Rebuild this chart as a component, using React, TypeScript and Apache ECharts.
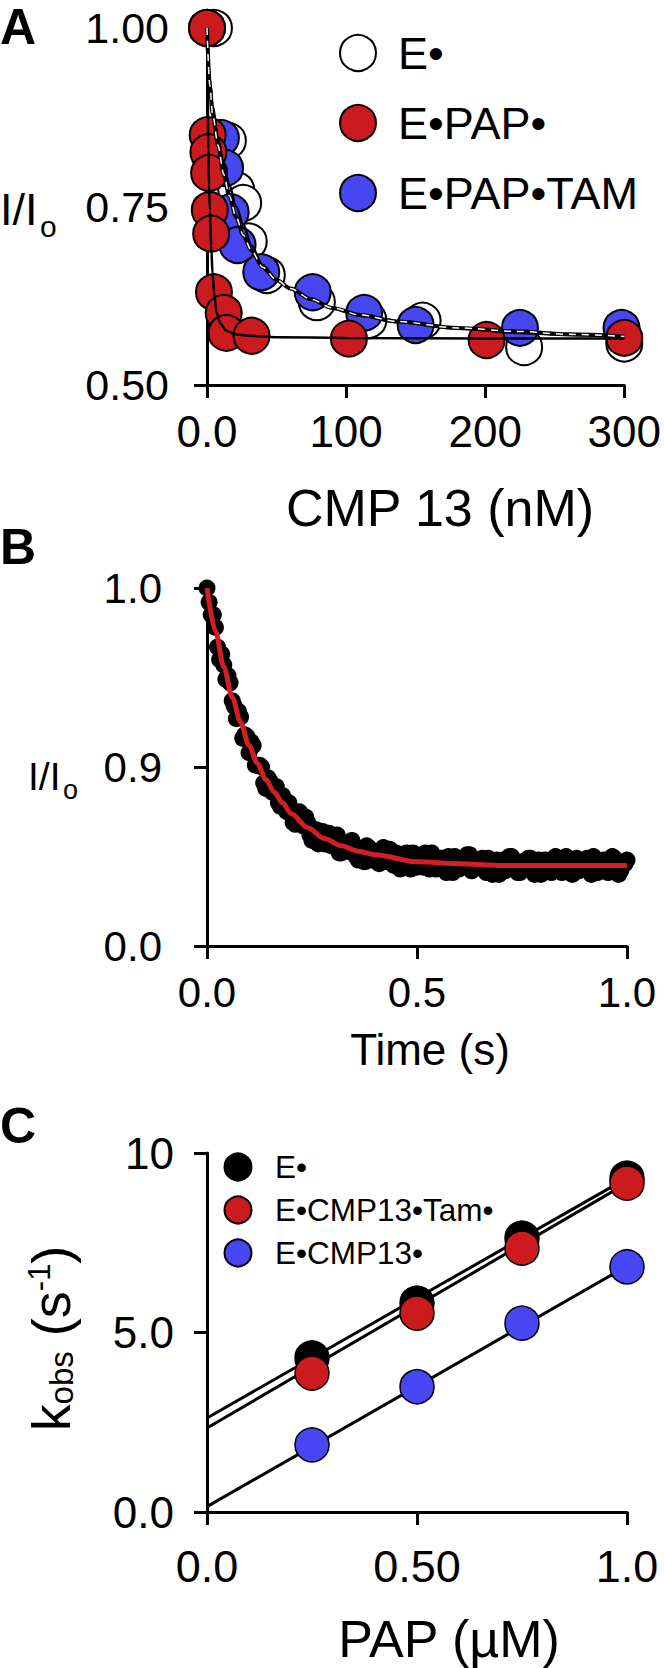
import React, { useEffect, useRef } from "react";
import * as echarts from "echarts";

const FONT = "'Liberation Sans', Arial, Helvetica, sans-serif";
const RED = "#CC1B1F";
const BLUE = "#4646F2";
const TRACE_RED = "#D11F26";

// ---------- Panel A : I/Io vs CMP 13 (nM) ----------
const A_X_TICKS = ["0.0", "100", "200", "300"];
const A_Y_TICKS = ["0.50", "0.75", "1.00"];
const A_E_X = [5, 15, 21, 26, 30, 43, 79, 116, 155, 228, 300];
const A_E_Y = [1.0, 0.842, 0.773, 0.755, 0.701, 0.654, 0.616, 0.591, 0.59, 0.553, 0.558];
const A_BLUE_X = [0, 10, 13, 17, 22, 39, 76, 113, 150, 225, 298];
const A_BLUE_Y = [1.0, 0.846, 0.804, 0.742, 0.696, 0.658, 0.63, 0.601, 0.584, 0.58, 0.58];
const A_RED_X = [0, 0.5, 1, 1.5, 2, 3, 5, 12, 14, 32, 102, 201, 300];
const A_RED_Y = [1.0, 0.85, 0.826, 0.797, 0.745, 0.712, 0.63, 0.601, 0.573, 0.569, 0.565, 0.563, 0.566];
const A_FIT_E_X = [0, 2, 4, 8, 12, 16, 21, 26, 32, 40, 50, 60, 75, 90, 110, 137, 180, 224, 260, 300];
const A_FIT_E_Y = [1.0, 0.93, 0.89, 0.845, 0.81, 0.78, 0.75, 0.725, 0.695, 0.668, 0.648, 0.635, 0.62, 0.607, 0.597, 0.588, 0.579, 0.573, 0.57, 0.567];
const A_FIT_BLUE_X = [0, 2, 4, 8, 12, 16, 21, 26, 32, 40, 50, 60, 75, 90, 110, 137, 180, 224, 260, 300];
const A_FIT_BLUE_Y = [1.0, 0.92, 0.88, 0.835, 0.795, 0.765, 0.735, 0.71, 0.688, 0.665, 0.647, 0.635, 0.62, 0.608, 0.598, 0.589, 0.58, 0.575, 0.571, 0.568];
const A_FIT_RED_X = [0, 0.5, 1, 1.5, 2, 3, 4, 5, 7, 10, 14, 20, 30, 50, 100, 200, 300];
const A_FIT_RED_Y = [1.0, 0.9, 0.83, 0.78, 0.745, 0.695, 0.655, 0.63, 0.6, 0.585, 0.576, 0.571, 0.569, 0.567, 0.566, 0.565, 0.565];
const A_LEGEND = ["E•", "E•PAP•", "E•PAP•TAM"];

// ---------- Panel B : stopped-flow trace (sampled every 5 ms) ----------
const B_X_TICKS = ["0.0", "0.5", "1.0"];
const B_Y_TICKS = ["0.0", "0.9", "1.0"];
const B_SAMPLE_DT = 0.005;
const B_TRACE_Y = [
  1.0, 0.992, 0.985, 0.985, 0.978, 0.967, 0.96, 0.963, 0.957, 0.949,
  0.951, 0.947, 0.937, 0.934, 0.927, 0.931, 0.928, 0.916, 0.918, 0.917,
  0.908, 0.914, 0.912, 0.901, 0.901, 0.901, 0.9, 0.891, 0.888, 0.894,
  0.892, 0.886, 0.886, 0.889, 0.88, 0.878, 0.884, 0.878, 0.875, 0.88,
  0.875, 0.869, 0.868, 0.873, 0.875, 0.868, 0.867, 0.872, 0.869, 0.862,
  0.859, 0.865, 0.865, 0.857, 0.861, 0.864, 0.857, 0.861, 0.863, 0.856,
  0.856, 0.86, 0.862, 0.852, 0.852, 0.856, 0.856, 0.853, 0.853, 0.859,
  0.856, 0.85, 0.848, 0.854, 0.854, 0.847, 0.856, 0.855, 0.848, 0.851,
  0.851, 0.847, 0.846, 0.853, 0.855, 0.849, 0.847, 0.854, 0.85, 0.845,
  0.852, 0.851, 0.843, 0.846, 0.85, 0.852, 0.847, 0.843, 0.852, 0.849,
  0.844, 0.85, 0.847, 0.844, 0.852, 0.847, 0.843, 0.852, 0.849, 0.843,
  0.845, 0.849, 0.849, 0.845, 0.841, 0.85, 0.847, 0.841, 0.85, 0.849,
  0.843, 0.844, 0.845, 0.847, 0.851, 0.851, 0.842, 0.843, 0.848, 0.845,
  0.845, 0.849, 0.843, 0.841, 0.849, 0.847, 0.84, 0.845, 0.848, 0.84,
  0.846, 0.848, 0.842, 0.843, 0.85, 0.85, 0.844, 0.844, 0.841, 0.841,
  0.847, 0.847, 0.845, 0.849, 0.849, 0.842, 0.84, 0.846, 0.848, 0.84,
  0.843, 0.848, 0.846, 0.845, 0.841, 0.843, 0.85, 0.849, 0.842, 0.841,
  0.847, 0.85, 0.845, 0.844, 0.84, 0.847, 0.849, 0.842, 0.844, 0.846,
  0.848, 0.849, 0.843, 0.84, 0.85, 0.847, 0.841, 0.843, 0.846, 0.848,
  0.842, 0.841, 0.847, 0.85, 0.849, 0.845, 0.84, 0.842, 0.845, 0.846,
  0.848,
];
const B_FIT_T = [0, 0.02, 0.04, 0.06, 0.08, 0.1, 0.12, 0.14, 0.16, 0.18, 0.2, 0.24, 0.28, 0.32, 0.36, 0.4, 0.5, 0.6, 0.7, 0.8, 0.9, 1.0];
const B_FIT_Y = [1.0, 0.976, 0.956, 0.939, 0.925, 0.912, 0.902, 0.893, 0.886, 0.88, 0.874, 0.866, 0.86, 0.856, 0.853, 0.851, 0.847, 0.846, 0.845, 0.845, 0.845, 0.845];

// ---------- Panel C : kobs vs PAP ----------
const C_X_TICKS = ["0.0", "0.50", "1.0"];
const C_Y_TICKS = ["0.0", "5.0", "10"];
const C_PAP = [0.25, 0.5, 0.75, 1.0];
const C_E = [4.29, 5.82, 7.63, 9.3];
const C_TAM = [3.87, 5.54, 7.35, 9.16];
const C_CMP = [1.87, 3.49, 5.26, 6.83];
const C_FIT_X = [0, 1.0];
const C_FIT_E = [2.62, 9.3];
const C_FIT_TAM = [2.34, 9.16];
const C_FIT_CMP = [0.15, 6.85];
const C_LEGEND = ["E•", "E•CMP13•Tam•", "E•CMP13•"];

const zip = (xs: number[], ys: number[]) => xs.map((x, i) => [x, ys[i]]);

function axis(
  gridIndex: number,
  min: number,
  max: number,
  interval: number,
  labels: string[],
  fontSize: number,
  margin: number,
  extra: any = {}
) {
  return {
    gridIndex,
    type: "value",
    min,
    max,
    interval,
    axisLine: { show: true, onZero: false, lineStyle: { color: "#000", width: 3 } },
    axisTick: { show: true, length: 13, lineStyle: { color: "#000", width: 3 } },
    splitLine: { show: false },
    axisLabel: {
      color: "#000",
      fontSize,
      fontFamily: FONT,
      margin,
      formatter: (v: number) => labels[Math.round((v - min) / interval)] ?? "",
    },
    ...extra,
  };
}

function txt(text: string, x: number, y: number, size: number, extra: any = {}) {
  return {
    type: "text",
    x,
    y,
    silent: true,
    style: {
      text,
      fill: "#000",
      fontSize: size,
      fontFamily: FONT,
      fontWeight: extra.bold ? "bold" : "normal",
      textAlign: extra.align || "left",
      textVerticalAlign: "middle",
      lineHeight: size,
    },
  };
}

function dot(cx: number, cy: number, r: number, fill: string) {
  return {
    type: "circle",
    silent: true,
    shape: { cx, cy, r },
    style: { fill, stroke: "#000", lineWidth: 2 },
  };
}

export default function App() {
  const ref = useRef<HTMLDivElement>(null);

  useEffect(() => {
    if (!ref.current) return;
    const chart = echarts.init(ref.current, null, { renderer: "svg" });

    const scatter = (name: string, data: number[][], gi: number, size: number, color: string, z: number, bw = 2) => ({
      name,
      type: "scatter",
      xAxisIndex: gi,
      yAxisIndex: gi,
      data,
      symbol: "circle",
      symbolSize: size,
      clip: false,
      z,
      itemStyle: { color, borderColor: "#000", borderWidth: bw, opacity: 1 },
    });
    const line = (name: string, data: number[][], gi: number, color: string, width: number, z: number, extra: any = {}) => ({
      name,
      type: "line",
      xAxisIndex: gi,
      yAxisIndex: gi,
      data,
      showSymbol: false,
      symbol: "none",
      clip: false,
      smooth: extra.smooth ?? false,
      smoothMonotone: "x",
      z,
      lineStyle: { color, width, type: extra.dash ? [7, 6] : "solid" },
    });

    const kobsName = {
      name: "{k|k}{sub|obs} {p|(s}{sup|-1}{p|)}",
      nameLocation: "middle",
      nameRotate: 90,
      nameGap: 129,
      nameTextStyle: {
        color: "#000",
        fontFamily: FONT,
        fontSize: 54,
        lineHeight: 54,
        padding: [0, 12, 0, 0],
        rich: {
          k: { fontSize: 54, lineHeight: 54, fontFamily: FONT, color: "#000" },
          p: { fontSize: 54, lineHeight: 54, fontFamily: FONT, color: "#000" },
          sub: { fontSize: 33, lineHeight: 33, verticalAlign: "bottom", fontFamily: FONT, color: "#000" },
          sup: { fontSize: 31, lineHeight: 31, verticalAlign: "top", fontFamily: FONT, color: "#000" },
        },
      },
    };

    const option: any = {
      animation: false,
      backgroundColor: "#ffffff",
      textStyle: { fontFamily: FONT },
      grid: [
        { left: 207, top: 28, width: 421, height: 357 },
        { left: 207, top: 588, width: 420, height: 358 },
        { left: 207, top: 1153, width: 420, height: 359 },
      ],
      xAxis: [
        axis(0, 0, 300, 100, A_X_TICKS, 44, 24),
        axis(1, 0, 1, 0.5, B_X_TICKS, 42, 25),
        axis(2, 0, 1, 0.5, C_X_TICKS, 45, 32),
      ],
      yAxis: [
        axis(0, 0.5, 1.0, 0.25, A_Y_TICKS, 43, 38),
        axis(1, 0.8, 1.0, 0.1, B_Y_TICKS, 42, 45),
        axis(2, 0, 10, 5, C_Y_TICKS, 44, 33, kobsName),
      ],
      series: [
        // Panel A
        scatter("E•", zip(A_E_X, A_E_Y), 0, 36, "#ffffff", 2),
        scatter("E•PAP•TAM", zip(A_BLUE_X, A_BLUE_Y), 0, 36, BLUE, 3),
        scatter("E•PAP•", zip(A_RED_X, A_RED_Y), 0, 36, RED, 4),
        line("E• fit", zip(A_FIT_E_X, A_FIT_E_Y), 0, "#000", 2.5, 6, { smooth: 0.3 }),
        line("E•PAP•TAM fit", zip(A_FIT_BLUE_X, A_FIT_BLUE_Y), 0, "#000", 4, 6, { smooth: 0.3 }),
        line("E•PAP•TAM fit dash", zip(A_FIT_BLUE_X, A_FIT_BLUE_Y), 0, "#ffffff", 1.5, 7, { smooth: 0.3, dash: true }),
        line("E•PAP• fit", zip(A_FIT_RED_X, A_FIT_RED_Y), 0, "#000", 2.5, 6, { smooth: 0.3 }),
        // Panel B
        scatter("trace", B_TRACE_Y.map((y, i) => [i * B_SAMPLE_DT, y]), 1, 17, "#000", 2, 0),
        line("trace fit", zip(B_FIT_T, B_FIT_Y), 1, TRACE_RED, 5, 3, { smooth: 0.3 }),
        // Panel C
        line("E• line", zip(C_FIT_X, C_FIT_E), 2, "#000", 3, 2),
        line("E•CMP13•Tam• line", zip(C_FIT_X, C_FIT_TAM), 2, "#000", 3, 2),
        line("E•CMP13• line", zip(C_FIT_X, C_FIT_CMP), 2, "#000", 3, 2),
        scatter("E• (C)", zip(C_PAP, C_E), 2, 34, "#000", 3, 1.5),
        scatter("E•CMP13•Tam•", zip(C_PAP, C_TAM), 2, 34, RED, 4, 1.5),
        scatter("E•CMP13•", zip(C_PAP, C_CMP), 2, 34, BLUE, 4, 1.5),
      ],
      graphic: [
        // panel letters
        txt("A", 0, 27, 50, { bold: true }),
        txt("B", 0, 547, 50, { bold: true }),
        txt("C", 0, 1126, 50, { bold: true }),
        // Panel A legend
        dot(358, 53, 18, "#ffffff"),
        dot(358, 123, 18, RED),
        dot(358, 193, 18, BLUE),
        txt(A_LEGEND[0], 398, 53, 45),
        txt(A_LEGEND[1], 398, 123, 45),
        txt(A_LEGEND[2], 398, 193, 45),
        // Panel A axis titles
        txt("I/I", 0, 209, 45),
        txt("o", 40, 226, 30),
        txt("CMP 13 (nM)", 440, 508, 52, { align: "center" }),
        // Panel B axis titles
        txt("I/I", 28, 776, 39),
        txt("o", 63, 790, 27),
        txt("Time (s)", 430, 1049, 44, { align: "center" }),
        // Panel C legend
        dot(238, 1167, 13.5, "#000"),
        dot(238, 1210, 13.5, RED),
        dot(238, 1253, 13.5, BLUE),
        txt(C_LEGEND[0], 275, 1167, 31.5),
        txt(C_LEGEND[1], 275, 1210, 31.5),
        txt(C_LEGEND[2], 275, 1253, 31.5),
        // Panel C x title
        txt("PAP (µM)", 449, 1639, 52, { align: "center" }),
      ],
    };

    chart.setOption(option);
    return () => chart.dispose();
  }, []);

  return (
    <div
      ref={ref}
      style={{ position: "absolute", left: 0, top: 0, width: 664, height: 1668, background: "#fff" }}
    />
  );
}
